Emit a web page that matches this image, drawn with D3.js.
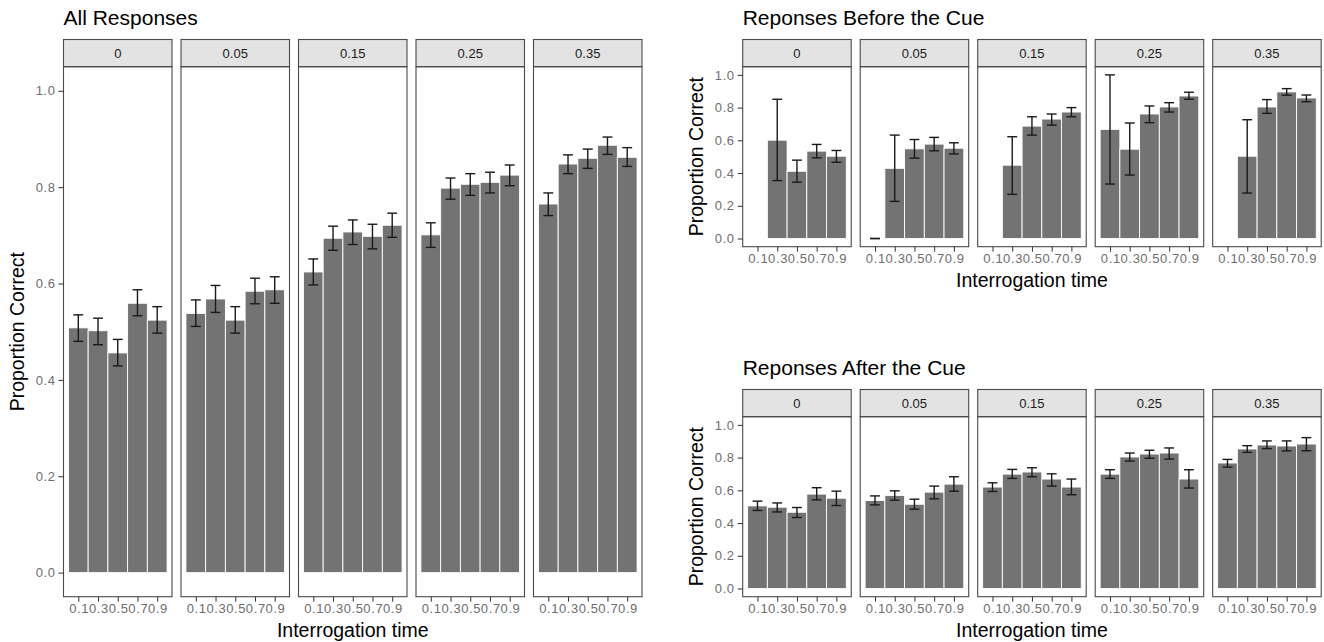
<!DOCTYPE html>
<html>
<head>
<meta charset="utf-8">
<script src="https://cdn.jsdelivr.net/npm/d3@7"></script>
<style>
  html, body { margin: 0; padding: 0; background: #fff; }
  svg { display: block; font-family: "Liberation Sans", Arial, Helvetica, sans-serif; }
</style>
</head>
<body>
<svg id="chart" width="1324" height="642"></svg>
<script>
// Facet levels (cue onset) and interrogation times
const cueLevels = ["0", "0.05", "0.15", "0.25", "0.35"];
const times = [0.1, 0.3, 0.5, 0.7, 0.9];
const timeTickLabels = ["0.1", "0.3", "0.5", "0.7", "0.9"];
const yTickValues = [0, 0.2, 0.4, 0.6, 0.8, 1.0];

// All responses: mean proportion correct and error-bar limits, one row per cue level
const allMean = [
  [0.508, 0.502, 0.456, 0.559, 0.524],
  [0.538, 0.568, 0.524, 0.584, 0.587],
  [0.624, 0.694, 0.707, 0.698, 0.721],
  [0.701, 0.798, 0.806, 0.810, 0.825],
  [0.765, 0.848, 0.860, 0.887, 0.862]
];
const allLo = [
  [0.480, 0.473, 0.429, 0.533, 0.497],
  [0.511, 0.540, 0.497, 0.558, 0.559],
  [0.597, 0.669, 0.681, 0.672, 0.696],
  [0.675, 0.775, 0.783, 0.788, 0.803],
  [0.741, 0.828, 0.839, 0.868, 0.843]
];
const allHi = [
  [0.535, 0.528, 0.484, 0.587, 0.552],
  [0.566, 0.596, 0.552, 0.611, 0.614],
  [0.651, 0.719, 0.732, 0.723, 0.746],
  [0.726, 0.819, 0.828, 0.831, 0.846],
  [0.788, 0.867, 0.879, 0.904, 0.882]
];

// Responses given before the cue (null = no responses at that time)
const beforeMean = [
  [null, 0.601, 0.411, 0.534, 0.503],
  [0, 0.429, 0.548, 0.577, 0.552],
  [null, 0.448, 0.687, 0.730, 0.773],
  [0.667, 0.546, 0.761, 0.804, 0.871],
  [null, 0.503, 0.804, 0.896, 0.859]
];
const beforeLo = [
  [null, 0.354, 0.344, 0.493, 0.466],
  [0, 0.227, 0.491, 0.536, 0.517],
  [null, 0.270, 0.632, 0.693, 0.744],
  [0.333, 0.388, 0.708, 0.773, 0.851],
  [null, 0.278, 0.765, 0.876, 0.836]
];
const beforeHi = [
  [null, 0.851, 0.479, 0.575, 0.538],
  [0, 0.632, 0.605, 0.618, 0.585],
  [null, 0.622, 0.744, 0.761, 0.800],
  [1.000, 0.706, 0.810, 0.830, 0.894],
  [null, 0.726, 0.849, 0.916, 0.877]
];

// Responses given after the cue
const afterMean = [
  [0.505, 0.497, 0.466, 0.577, 0.552],
  [0.538, 0.569, 0.515, 0.589, 0.638],
  [0.620, 0.699, 0.712, 0.669, 0.620],
  [0.699, 0.804, 0.822, 0.828, 0.669],
  [0.767, 0.853, 0.877, 0.871, 0.883]
];
const afterLo = [
  [0.477, 0.468, 0.434, 0.542, 0.507],
  [0.511, 0.540, 0.485, 0.548, 0.595],
  [0.593, 0.673, 0.683, 0.626, 0.573],
  [0.673, 0.779, 0.796, 0.791, 0.614],
  [0.742, 0.832, 0.855, 0.841, 0.842]
];
const afterHi = [
  [0.534, 0.523, 0.495, 0.616, 0.595],
  [0.566, 0.597, 0.546, 0.626, 0.683],
  [0.646, 0.728, 0.738, 0.701, 0.669],
  [0.726, 0.828, 0.845, 0.859, 0.726],
  [0.789, 0.873, 0.902, 0.902, 0.922]
];

const svg = d3.select("#chart");

const BAR_FILL = "#737373";
const BORDER = "#4a4a4a";
const STRIP_FILL = "#e3e3e3";
const TICK_TEXT = "#6e6e6e";
const FONT = "'Liberation Sans', Arial, sans-serif";

const barWidth = 0.2;
const capWidth = 0.1;

function styleTickText(sel) {
  sel.attr("font-size", 13)
    .attr("font-family", FONT)
    .attr("letter-spacing", 0.6)
    .attr("fill", TICK_TEXT);
}

function facetChart(opts) {
  const { title, left, panelW, step, stripTop, stripH, bodyBottom, mean, lo, hi } = opts;
  const bodyTop = stripTop + stripH;
  const g = svg.append("g");

  const y = d3.scaleLinear().domain([-0.05, 1.05]).range([bodyBottom, bodyTop]);

  // plot title
  g.append("text")
    .attr("x", left)
    .attr("y", stripTop - 14.5)
    .attr("font-size", 21)
    .attr("fill", "#000")
    .text(title);

  cueLevels.forEach((lvl, i) => {
    const x0 = left + i * step;
    const x = d3.scaleLinear().domain([-0.05, 1.05]).range([x0, x0 + panelW]);
    const pg = g.append("g");

    // strip
    pg.append("rect")
      .attr("x", x0).attr("y", stripTop)
      .attr("width", panelW).attr("height", stripH)
      .attr("fill", STRIP_FILL)
      .attr("stroke", BORDER).attr("stroke-width", 1.1);
    pg.append("text")
      .attr("x", x0 + panelW / 2)
      .attr("y", stripTop + stripH / 2)
      .attr("dy", "0.36em")
      .attr("text-anchor", "middle")
      .attr("font-size", 13)
      .attr("fill", "#1a1a1a")
      .text(lvl);

    const rows = times.map((t, j) => ({ t, m: mean[i][j], lo: lo[i][j], hi: hi[i][j] }))
      .filter(d => d.m !== null);

    // bars
    pg.selectAll("rect.bar").data(rows).enter().append("rect")
      .attr("class", "bar")
      .attr("x", d => x(d.t - barWidth / 2))
      .attr("width", d => x(d.t + barWidth / 2) - x(d.t - barWidth / 2))
      .attr("y", d => Math.min(y(d.m), y(0)))
      .attr("height", d => Math.abs(y(0) - y(d.m)))
      .attr("fill", BAR_FILL)
      .attr("stroke", "#fff")
      .attr("stroke-width", 0.9);

    // error bars
    const eb = pg.selectAll("g.eb").data(rows).enter().append("g").attr("class", "eb")
      .attr("stroke", "#1a1a1a").attr("stroke-width", 1.4).attr("fill", "none");
    eb.append("line")
      .attr("x1", d => x(d.t)).attr("x2", d => x(d.t))
      .attr("y1", d => y(d.lo)).attr("y2", d => y(d.hi));
    eb.append("line")
      .attr("x1", d => x(d.t - capWidth / 2)).attr("x2", d => x(d.t + capWidth / 2))
      .attr("y1", d => y(d.hi)).attr("y2", d => y(d.hi));
    eb.append("line")
      .attr("x1", d => x(d.t - capWidth / 2)).attr("x2", d => x(d.t + capWidth / 2))
      .attr("y1", d => y(d.lo)).attr("y2", d => y(d.lo));

    // panel border
    pg.append("rect")
      .attr("x", x0).attr("y", bodyTop)
      .attr("width", panelW).attr("height", bodyBottom - bodyTop)
      .attr("fill", "none")
      .attr("stroke", BORDER).attr("stroke-width", 1.1);

    // x axis
    const xAxis = d3.axisBottom(x)
      .tickValues(times)
      .tickFormat((d, k) => timeTickLabels[k])
      .tickSize(5).tickSizeOuter(0).tickPadding(2.5);
    const xg = pg.append("g").attr("transform", `translate(0,${bodyBottom})`).call(xAxis);
    xg.select(".domain").remove();
    xg.selectAll(".tick line").attr("stroke", "#333").attr("stroke-width", 1);
    xg.selectAll(".tick text").call(styleTickText).attr("dx", 0.3);

    // y axis on the first panel only
    if (i === 0) {
      const yAxis = d3.axisLeft(y)
        .tickValues(yTickValues)
        .tickFormat(d3.format(".1f"))
        .tickSize(5).tickSizeOuter(0).tickPadding(3);
      const yg = pg.append("g").attr("transform", `translate(${x0},0)`).call(yAxis);
      yg.select(".domain").remove();
      yg.selectAll(".tick line").attr("stroke", "#333").attr("stroke-width", 1);
      yg.selectAll(".tick text").call(styleTickText);
    }
  });

  // axis titles
  const totalW = step * (cueLevels.length - 1) + panelW;
  g.append("text")
    .attr("x", left + totalW / 2)
    .attr("y", bodyBottom + 40)
    .attr("text-anchor", "middle")
    .attr("font-size", 19.5)
    .attr("fill", "#000")
    .text("Interrogation time");
  g.append("text")
    .attr("transform", `translate(${left - 39.5},${(bodyTop + bodyBottom) / 2}) rotate(-90)`)
    .attr("text-anchor", "middle")
    .attr("font-size", 19.5)
    .attr("fill", "#000")
    .text("Proportion Correct");
}

facetChart({
  title: "All Responses",
  left: 63.5, panelW: 108.5, step: 117.5,
  stripTop: 39.5, stripH: 27.2, bodyBottom: 596.7,
  mean: allMean, lo: allLo, hi: allHi
});

facetChart({
  title: "Reponses Before the Cue",
  left: 742.7, panelW: 108.5, step: 117.5,
  stripTop: 39.5, stripH: 27.2, bodyBottom: 246.7,
  mean: beforeMean, lo: beforeLo, hi: beforeHi
});

facetChart({
  title: "Reponses After the Cue",
  left: 742.7, panelW: 108.5, step: 117.5,
  stripTop: 389.5, stripH: 27.2, bodyBottom: 596.7,
  mean: afterMean, lo: afterLo, hi: afterHi
});
</script>
</body>
</html>
